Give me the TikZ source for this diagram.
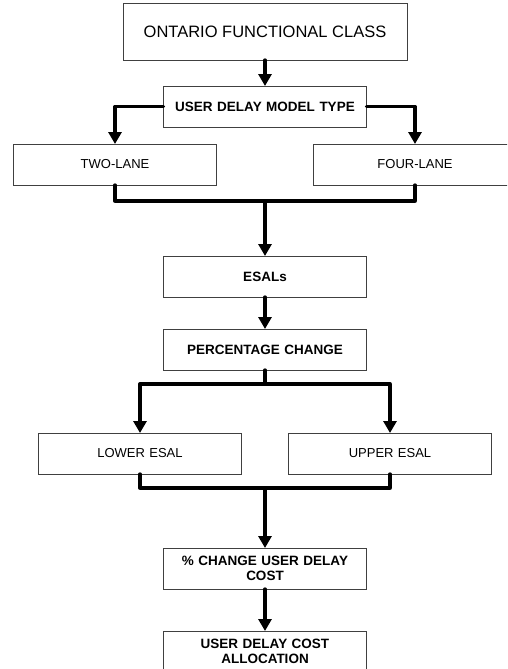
\documentclass[tikz,border=0pt]{standalone}
\usepackage{fontspec}
\setmainfont{Liberation Sans}
\usetikzlibrary{arrows.meta,positioning}
\tikzset{
    >={Triangle[length=12pt,width=13pt]},
    bigPunkt/.style={
           rectangle,
           draw=black!75, line width=0.8pt,
           outer sep=0pt,
           minimum width=284pt,
           minimum height=57pt,
           font=\fontsize{16.5}{19}\selectfont,
           text centered},
    punkt/.style={
           rectangle,
           draw=black!75, line width=0.8pt,
           outer sep=0pt,
           minimum width=203pt,
           minimum height=41pt,
           text width=190pt,
           font=\fontsize{13}{15}\selectfont,
           text centered},
    boldPunkt/.style={
           punkt,
           font=\fontsize{13.5}{15}\selectfont\bfseries},
    lin/.style={
           line width=3.3pt,
           line cap=round,
           line join=round},
    pil/.style={
           lin,
           ->}
}

\begin{document}
\begin{tikzpicture}[node distance=26pt, auto]
	\clip (0,0) rectangle (507pt,-669pt);
	\node[bigPunkt] (Ontario) at (265pt,-31.5pt) {ONTARIO FUNCTIONAL CLASS};
	\node[boldPunkt, below = 26pt of Ontario] (DelayModel) {USER DELAY MODEL TYPE};
	\node[punkt, below = 17pt of DelayModel, xshift=-150pt] (TwoLane) {TWO-LANE};
	\node[punkt, below = 17pt of DelayModel, xshift=150pt] (FourLane) {FOUR-LANE};
	\node[boldPunkt, below = 129pt of DelayModel] (ESALs) {ESALs};
	\node[boldPunkt, below = 32pt of ESALs] (PctChange) {PERCENTAGE CHANGE};
	\node[punkt, below = 63pt of PctChange, xshift=-125pt] (LowerESAL) {LOWER ESAL};
	\node[punkt, below = 63pt of PctChange, xshift=125pt] (UpperESAL) {UPPER ESAL};
	\node[boldPunkt, below = 178pt of PctChange] (DelayCost) {\% CHANGE USER DELAY\\COST};
	\node[boldPunkt, below = 42pt of DelayCost] (Allocation) {USER DELAY COST\\ALLOCATION};
	% junctions
	\path (TwoLane.south -| ESALs.north) ++(0,-16pt) coordinate (merge1);
	\path (PctChange.south) ++(0,-14pt) coordinate (split2);
	\path (LowerESAL.south -| DelayCost.north) ++(0,-14pt) coordinate (merge3);
	\draw [pil] (Ontario) -- (DelayModel);
	\draw [pil] (DelayModel.west) -| (TwoLane.north);
	\draw [pil] (DelayModel.east) -| (FourLane.north);
	\draw [lin] (TwoLane.south) |- (merge1) -| (FourLane.south);
	\draw [pil] (merge1) -- (ESALs.north);
	\draw [pil] (ESALs) -- (PctChange);
	\draw [lin] (PctChange.south) -- (split2);
	\draw [pil] (split2) -| (LowerESAL.north);
	\draw [pil] (split2) -| (UpperESAL.north);
	\draw [lin] (LowerESAL.south) |- (merge3) -| (UpperESAL.south);
	\draw [pil] (merge3) -- (DelayCost.north);
	\draw [pil] (DelayCost) -- (Allocation);
\end{tikzpicture}
\end{document}
